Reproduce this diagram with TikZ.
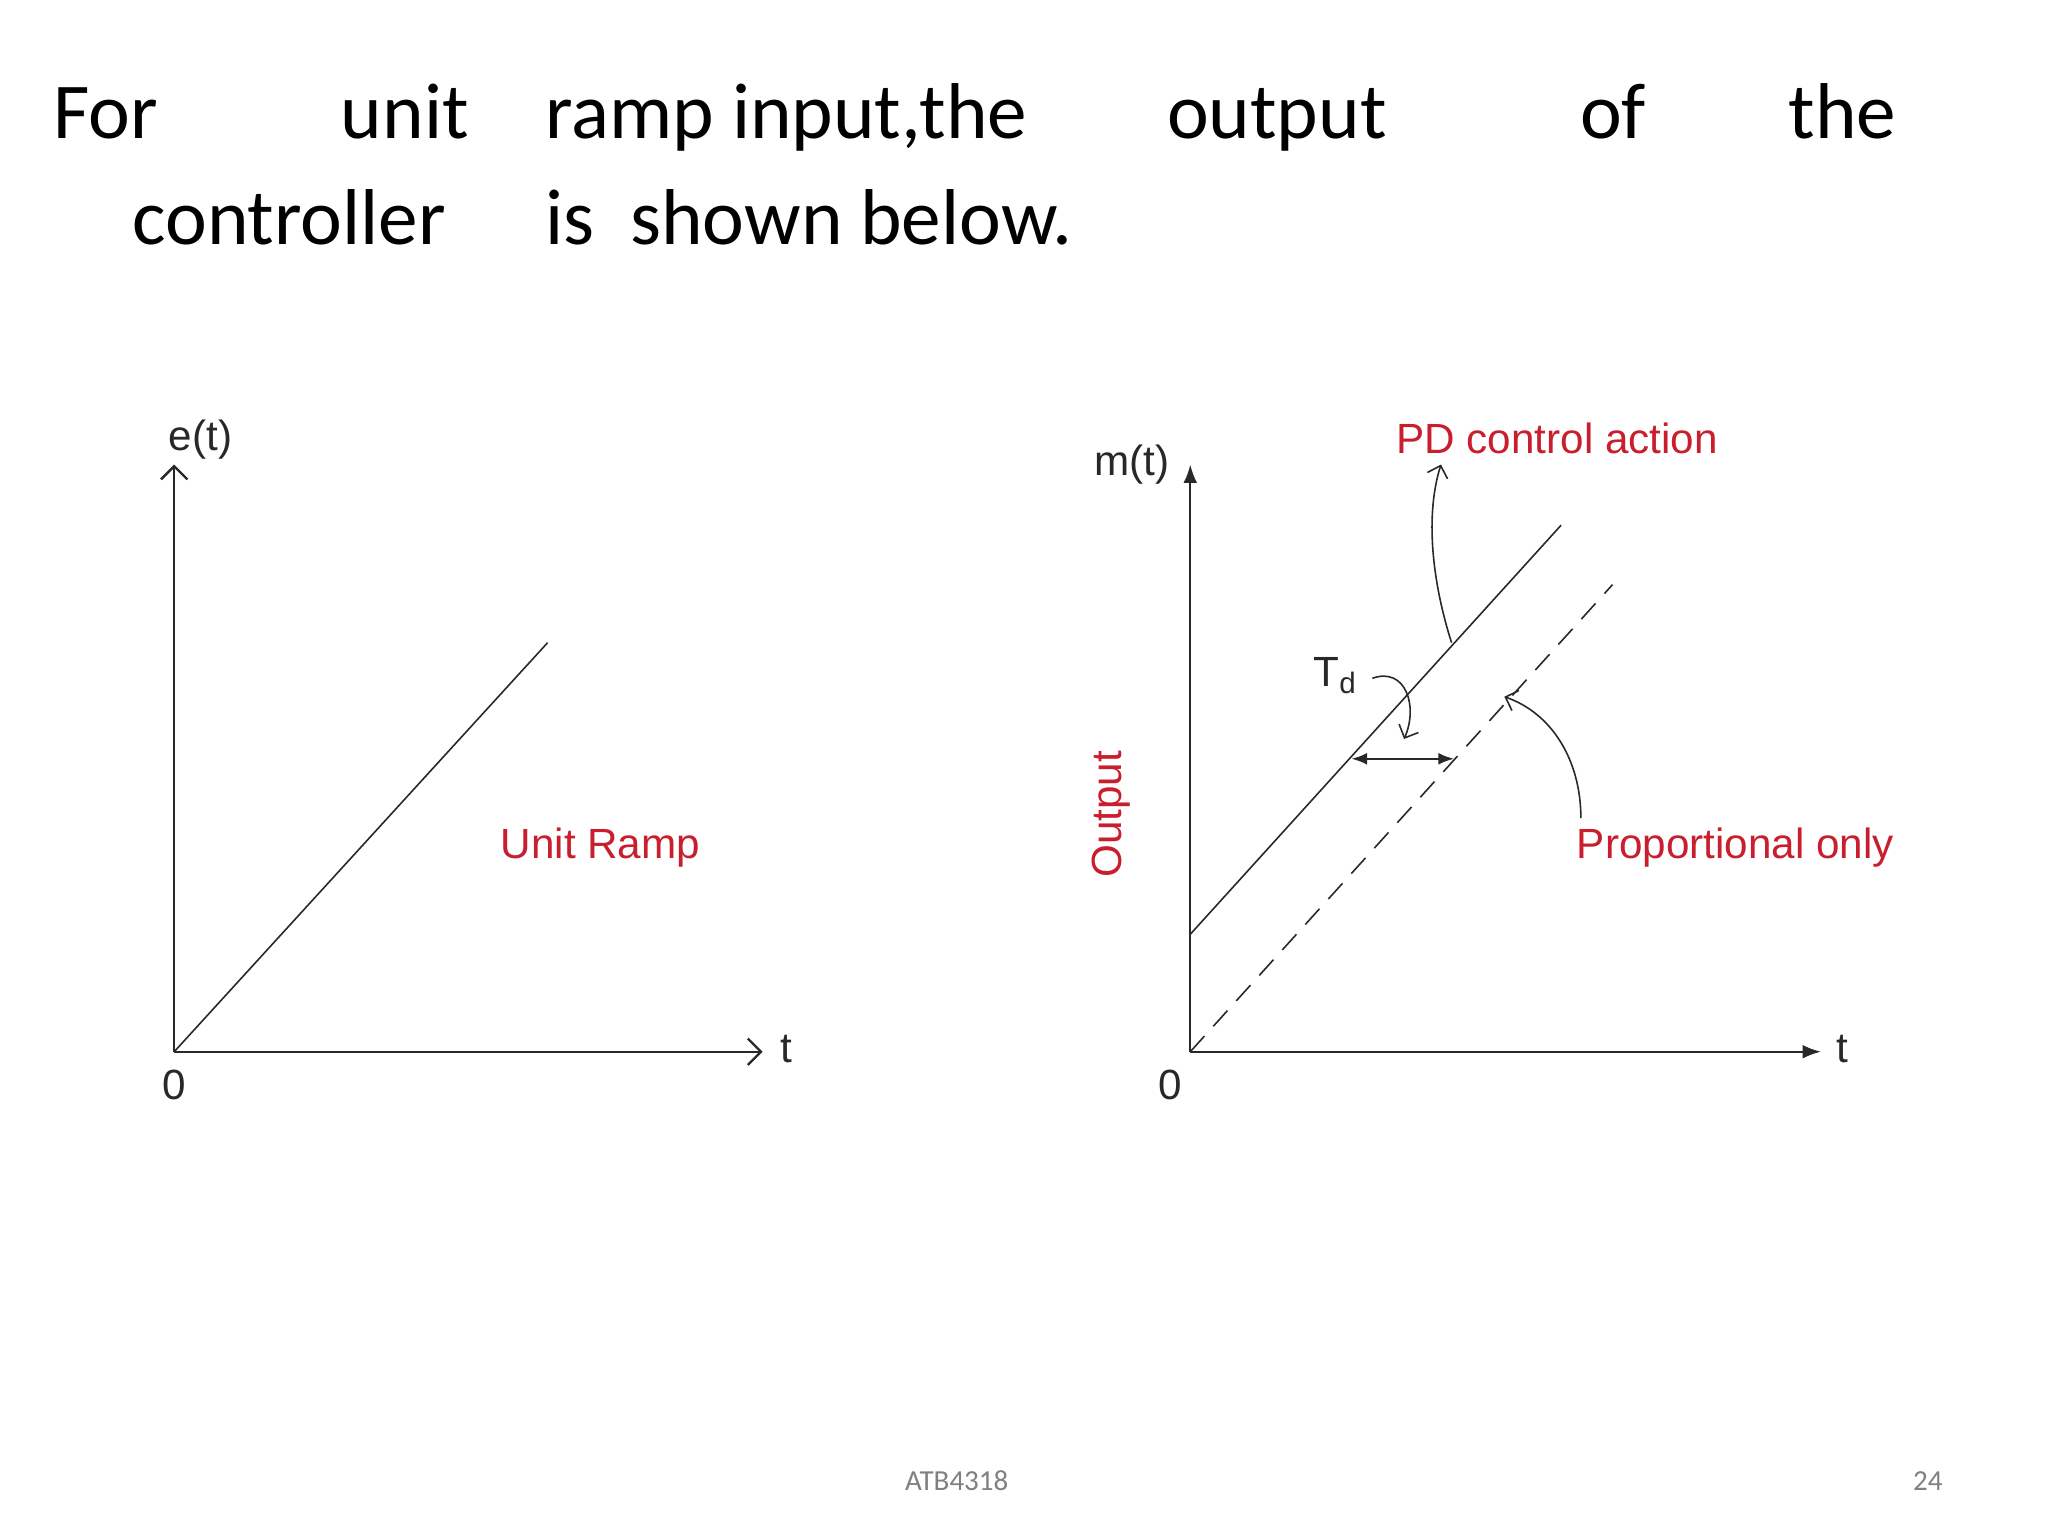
\documentclass[tikz,border=0pt]{standalone}
\usepackage{fontspec}
\setmainfont{Carlito}
\newfontfamily\arial{Liberation Sans}
\usetikzlibrary{arrows.meta}
\definecolor{rd}{RGB}{200,30,45}
\definecolor{ax}{RGB}{40,40,40}
\begin{document}
\begin{tikzpicture}[x=0.5pt,y=-0.5pt,
  ttl/.style={anchor=base west,inner sep=0,font=\fontsize{30}{36}\selectfont},
  lbl/.style={font=\arial\fontsize{16}{19}\selectfont,inner sep=0,text=ax},
  rlbl/.style={font=\arial\fontsize{16}{19}\selectfont,inner sep=0,text=rd},
  axl/.style={ax,line width=0.9pt},
  thin/.style={ax,line width=0.6pt}]
\useasboundingbox (0,0) rectangle (1552,1164);
\fill[white] (0,0) rectangle (1552,1164);
% title
\node[ttl] (t1) at (40,105) {For};
\node[ttl] (t2) at (258,105) {unit};
\node[ttl] (t3) at (413,105) {ramp input,the};
\node[ttl] (t4) at (884,105) {output};
\node[ttl] (t5) at (1197,105) {of};
\node[ttl] (t6) at (1355,105) {the};
\node[ttl] (t7) at (100,185) {controller};
\node[ttl] (t8) at (413,185) {is\ \ shown below.};
\node[font=\fontsize{11}{13}\selectfont,text=gray] (f1) at (725,1122) {ATB4318};
\node[font=\fontsize{11}{13}\selectfont,text=gray] (f2) at (1461,1122) {24};
% left plot
\coordinate (lo) at (132,797);
\coordinate (ly) at (132,352);
\coordinate (lx) at (578,797);
\coordinate (lr) at (415,487);
\draw[axl,-{Straight Barb[length=5pt]}] (lo) -- (ly);
\draw[axl,-{Straight Barb[length=5pt]}] (lo) -- (lx);
\draw[thin] (lo) -- (lr);
\node[lbl] (et) at (152,333) {e(t)};
\node[lbl] (lt) at (596,795) {t};
\node[lbl] (l0) at (132,822) {0};
\node[rlbl] (ur) at (455,642) {Unit Ramp};
% right plot
\coordinate (ro) at (902,797);
\coordinate (ry) at (902,352);
\coordinate (rx) at (1380,797);
\coordinate (s0) at (902,708);
\coordinate (s1) at (1183,398);
\coordinate (d1) at (1222,443);
\draw[axl,-{Latex[length=7pt]}] (ro) -- (ry);
\draw[axl,-{Latex[length=7pt]}] (ro) -- (rx);
\draw[thin] (s0) -- (s1);
\draw[thin,dash pattern=on 8pt off 5pt] (ro) -- (d1);
\node[lbl] (mt) at (858,352) {m(t)};
\node[lbl] (rt) at (1396,795) {t};
\node[lbl] (r0) at (887,822) {0};
\node[rlbl,rotate=90] (out) at (842,617) {Output};
\node[rlbl] (pd) at (1180,332) {PD control action};
\node[rlbl] (po) at (1315,642) {Proportional only};
\node[lbl] (td) at (1012,512) {T\textsubscript{d}};
\coordinate (a1) at (1100,487);
\coordinate (a2) at (1092,352);
\draw[thin,-{Straight Barb[length=4pt]}] (a1) .. controls (1085,440) and (1080,390) .. (a2);
\coordinate (b1) at (1040,514);
\coordinate (b2) at (1064,560);
\draw[thin,-{Straight Barb[length=4pt]}] (b1) .. controls (1065,505) and (1075,535) .. (b2);
\coordinate (c1) at (1024,575);
\coordinate (c2) at (1102,575);
\draw[axl,{Latex[length=6pt]}-{Latex[length=6pt]}] (c1) -- (c2);
\coordinate (e1) at (1198,620);
\coordinate (e2) at (1140,528);
\draw[thin,-{Straight Barb[length=4pt]}] (e1) .. controls (1198,575) and (1175,540) .. (e2);
\end{tikzpicture}
\end{document}
